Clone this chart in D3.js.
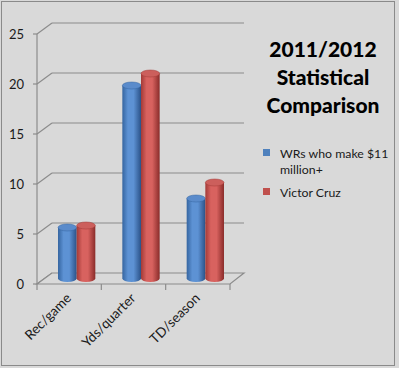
<!DOCTYPE html>
<html><head><meta charset="utf-8">
<script src="https://cdn.jsdelivr.net/npm/d3@7"></script>
<style>html,body{margin:0;padding:0;background:#fff;}svg{display:block;}</style>
</head><body>
<svg id="c" width="399" height="368"></svg>
<script>
const categories = ["Rec/game", "Yds/quarter", "TD/season"];
const seriesNames = ["WRs who make $11 million+", "Victor Cruz"];
const wrValues = [5.1, 19.3, 8.0];
const cruzValues = [5.3, 20.5, 9.6];
const yTicks = [0, 5, 10, 15, 20, 25];
const titleLines = ["2011/2012", "Statistical", "Comparison"];

const svg = d3.select("#c");
const FONT = "Lato, 'Open Sans', sans-serif";
const W = 399, H = 368;

// background + border
svg.append("rect").attr("width", W).attr("height", H).attr("fill", "#d9d9d9");
svg.append("rect").attr("x", 1.5).attr("y", 1.5).attr("width", 393).attr("height", 364)
  .attr("fill", "none").attr("stroke", "#8a8a8a").attr("stroke-width", 1);

const x0 = 37, x1 = 230;
const y = d3.scaleLinear().domain([0, 25]).range([284, 34]);
const dx = 15, dy = -11;   // depth offset
const gridColor = "#8c8c8c";

const x = d3.scaleBand().domain(categories).range([x0, x1]).padding(0);
const xs = d3.scaleBand().domain(seriesNames).range([x.bandwidth() * 0.21, x.bandwidth() * 0.79]).padding(0);

const g = svg.append("g");

// back wall gridlines
yTicks.forEach(v => {
  if (v > 0) {
    g.append("line").attr("x1", x0 + dx).attr("x2", x1 + dx - 1).attr("y1", y(v) + dy).attr("y2", y(v) + dy)
      .attr("stroke", gridColor).attr("stroke-width", 1.2);
  }
  g.append("line").attr("x1", x0).attr("x2", x0 + dx).attr("y1", y(v)).attr("y2", y(v) + dy)
    .attr("stroke", gridColor).attr("stroke-width", 1.2);
  g.append("line").attr("x1", x0 - 4).attr("x2", x0).attr("y1", y(v)).attr("y2", y(v))
    .attr("stroke", gridColor).attr("stroke-width", 1.2);
});
// floor
g.append("path").attr("d", d3.line()([[x0, y(0)], [x1, y(0)], [x1 + dx - 1, y(0) + dy], [x0 + dx, y(0) + dy]]) + "Z")
  .attr("fill", "#d9d9d9").attr("stroke", gridColor).attr("stroke-width", 1.2);
// front vertical axis
g.append("line").attr("x1", x0).attr("x2", x0).attr("y1", y(25)).attr("y2", y(0))
  .attr("stroke", gridColor).attr("stroke-width", 1.2);
// category ticks
[x0, ...categories.map(c => x(c) + x.bandwidth())].forEach(px => {
  g.append("line").attr("x1", px).attr("x2", px).attr("y1", y(0)).attr("y2", y(0) + 6)
    .attr("stroke", gridColor).attr("stroke-width", 1.2);
});

// y labels
yTicks.forEach(v => {
  svg.append("text").attr("x", 24).attr("y", y(v) + 2).attr("text-anchor", "end")
    .attr("dominant-baseline", "middle").attr("font-family", FONT).attr("font-size", 13)
    .attr("fill", "#1a1a1a").text(v);
});

// gradients
const defs = svg.append("defs");
const palettes = [
  { edgeL: "#3565a0", light: "#5d92d4", edgeR: "#2b5288", top: "#5a8bcb" },
  { edgeL: "#a33a37", light: "#d8625f", edgeR: "#8a2c2a", top: "#cc5f5c" }
];
palettes.forEach((p, i) => {
  const gr = defs.append("linearGradient").attr("id", "cyl" + i).attr("x1", "0").attr("x2", "1").attr("y1", "0").attr("y2", "0");
  gr.append("stop").attr("offset", "0%").attr("stop-color", p.edgeL);
  gr.append("stop").attr("offset", "30%").attr("stop-color", p.light);
  gr.append("stop").attr("offset", "60%").attr("stop-color", p.light);
  gr.append("stop").attr("offset", "100%").attr("stop-color", p.edgeR);
});

// cylinders
const series = [wrValues, cruzValues];
const ry = 3.5;
const bdx = dx / 2, bdy = dy / 2;
categories.forEach((c, ci) => {
  series.forEach((vals, si) => {
    const left = x(c) + xs(seriesNames[si]) + bdx;
    const w = xs.bandwidth();
    const rx = w / 2;
    const yb = y(0) + bdy;
    const yt = y(vals[ci]) + bdy;
    const cx = left + rx;
    const path = `M${left},${yt} L${left},${yb} A${rx},${ry} 0 0 0 ${left + w},${yb} L${left + w},${yt} Z`;
    g.append("path").attr("d", path).attr("fill", `url(#cyl${si})`);
    g.append("ellipse").attr("cx", cx).attr("cy", yt).attr("rx", rx).attr("ry", ry)
      .attr("fill", palettes[si].top).attr("stroke", palettes[si].edgeL).attr("stroke-width", 0.5);
  });
});

// category labels
categories.forEach(c => {
  const px = x(c) + x.bandwidth() / 2 + 3;
  const py = y(0) + 15;
  svg.append("text").attr("transform", `translate(${px},${py}) rotate(-45)`)
    .attr("text-anchor", "end").attr("font-family", FONT).attr("font-size", 13.5)
    .attr("fill", "#1a1a1a").text(c);
});

// title
titleLines.forEach((t, i) => {
  svg.append("text").attr("x", 323).attr("y", 57 + i * 28).attr("text-anchor", "middle")
    .attr("font-family", FONT).attr("font-weight", "900").attr("font-size", 21)
    .attr("fill", "#000").text(t);
});

// legend
const legColors = ["#4f81bd", "#c0504d"];
const legLines = [["WRs who make $11", "million+"], ["Victor Cruz"]];
const legY = [158, 197];
legLines.forEach((lines, i) => {
  svg.append("rect").attr("x", 263).attr("y", legY[i] - 9).attr("width", 7).attr("height", 7).attr("fill", legColors[i]);
  lines.forEach((t, j) => {
    svg.append("text").attr("x", 280).attr("y", legY[i] + j * 16).attr("font-family", FONT)
      .attr("font-size", 12.3).attr("fill", "#1a1a1a").text(t);
  });
});
</script>
</body></html>
